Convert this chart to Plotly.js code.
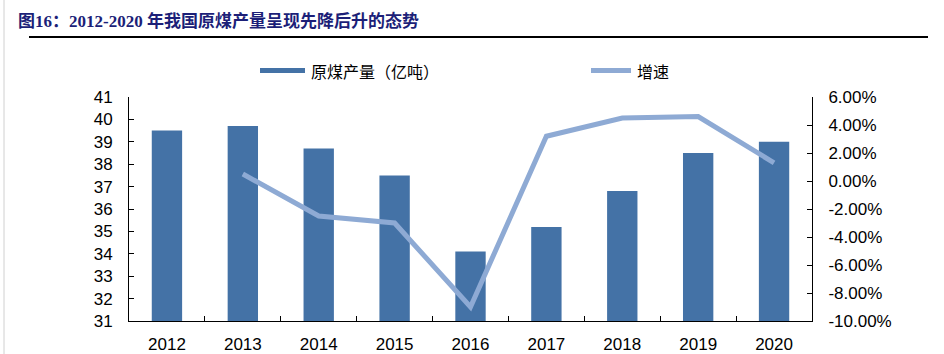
<!DOCTYPE html>
<html>
<head>
<meta charset="utf-8">
<script src="https://cdn.plot.ly/plotly-3.0.1.min.js"></script>
<style>html,body{margin:0;padding:0;background:#fff;}#chart{width:944px;height:354px;}</style>
</head>
<body>
<div id="chart"></div>
<script>
const years = ["2012","2013","2014","2015","2016","2017","2018","2019","2020"];
const output = [39.5, 39.7, 38.7, 37.5, 34.1, 35.2, 36.8, 38.5, 39.0];
const growth = [null, 0.5, -2.5, -3.0, -9.0, 3.2, 4.5, 4.6, 1.3];
const y2Vals = [-10, -8, -6, -4, -2, 0, 2, 4, 6];
const y2Text = ["-10.00%","-8.00%","-6.00%","-4.00%","-2.00%","0.00%","2.00%","4.00%","6.00%"];
const barName = "原煤产量（亿吨）";
const lineName = "增速";
const titleText = "图16：2012-2020 年我国原煤产量呈现先降后升的态势";

const barColor = "#4472a6";
const lineColor = "#8eaad4";
const L = 129, R = 812, T = 97, B = 321, W = 944, H = 354;
const px = x => (x - L) / (R - L);
const py = y => (B - y) / (B - T);
const tickFont = {family: "Liberation Sans, Arial, sans-serif", size: 17, color: "#000"};

const traces = [
  {type: "bar", x: years, y: output, name: barName, marker: {color: barColor}, width: 0.4, yaxis: "y", showlegend: false},
  {type: "scatter", mode: "lines", x: years, y: growth, name: lineName, line: {color: lineColor, width: 5}, yaxis: "y2", connectgaps: false, showlegend: false}
];

const layout = {
  width: W, height: H,
  margin: {l: L, r: W - R, t: T, b: H - B},
  paper_bgcolor: "#fff", plot_bgcolor: "#fff",
  showlegend: false,
  title: {text: titleText, xref: "container", yref: "container", x: 18 / W, xanchor: "left", y: 1 - 21 / H, yanchor: "middle",
          font: {family: "Liberation Serif, Noto Sans CJK SC, serif", size: 17, color: "#1c1f78", weight: "bold"}},
  xaxis: {type: "category", showline: true, linecolor: "#000", linewidth: 1, ticks: "inside", ticklen: 5, tickcolor: "#000",
          tickson: "boundaries", tickfont: tickFont, showgrid: false, zeroline: false, ticklabelstandoff: 8, fixedrange: true},
  yaxis: {range: [31, 41], dtick: 1, tick0: 31, showline: true, linecolor: "#000", linewidth: 1, ticks: "inside", ticklen: 5,
          tickcolor: "#000", tickfont: tickFont, showgrid: false, zeroline: false, ticklabelstandoff: 12},
  yaxis2: {range: [-10, 6], overlaying: "y", side: "right", tickvals: y2Vals, ticktext: y2Text, showline: true, linecolor: "#000",
           linewidth: 1, ticks: "inside", ticklen: 5, tickcolor: "#000", tickfont: tickFont, showgrid: false, zeroline: false, ticklabelstandoff: 12},
  shapes: [
    {type: "line", xref: "paper", yref: "paper", x0: px(29), x1: px(928), y0: py(37), y1: py(37), line: {color: "#000", width: 2}},
    {type: "line", xref: "paper", yref: "paper", x0: px(4), x1: px(4), y0: py(0), y1: py(354), line: {color: "#d0d0d0", width: 1}},
    {type: "rect", xref: "paper", yref: "paper", x0: px(260), x1: px(305), y0: py(73), y1: py(68), fillcolor: barColor, line: {width: 0}},
    {type: "line", xref: "paper", yref: "paper", x0: px(591), x1: px(631), y0: py(70.5), y1: py(70.5), line: {color: lineColor, width: 5}}
  ],
  annotations: [
    {xref: "paper", yref: "paper", x: px(309), y: py(71), xanchor: "left", yanchor: "middle", showarrow: false, text: barName,
     font: {family: "Noto Sans CJK SC, sans-serif", size: 16, color: "#000"}},
    {xref: "paper", yref: "paper", x: px(635), y: py(71), xanchor: "left", yanchor: "middle", showarrow: false, text: lineName,
     font: {family: "Noto Sans CJK SC, sans-serif", size: 16, color: "#000"}}
  ]
};

Plotly.newPlot("chart", traces, layout, {displayModeBar: false, staticPlot: true});
</script>
</body>
</html>
